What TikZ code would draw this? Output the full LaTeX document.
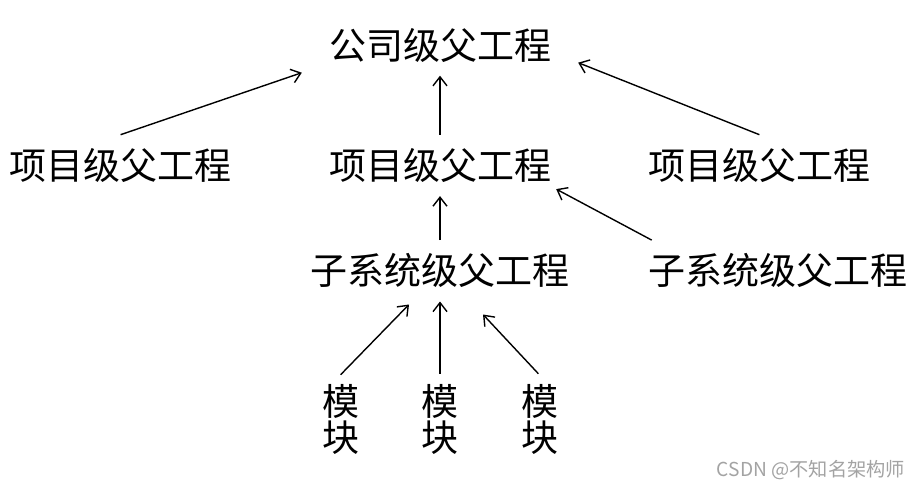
\documentclass[tikz,border=0pt]{standalone}
\usepackage{fontspec}
\newfontfamily\cjk{Noto Sans CJK SC}
\usetikzlibrary{positioning,arrows.meta}
\definecolor{markgray}{HTML}{A3A3A3}

\tikzset{
    proj/.style={inner sep=0pt, font=\cjk\fontsize{37}{40}\selectfont,
        text height=32.6pt, text depth=4.4pt},
    modbox/.style={inner sep=0pt, align=center, font=\cjk\fontsize{37}{36}\selectfont},
    uparrow/.style={line width=1.4pt, -{Straight Barb[length=9pt,width=14pt,line width=1.4pt]}}
}

\begin{document}
\begin{tikzpicture}[x=1pt,y=-1pt]
            \useasboundingbox (0,0) rectangle (922,492);
                \node[proj] (top) at (440,45) {公司级父工程};
                \node[proj, below=83pt of top] (midproj) {项目级父工程};
                \node[proj, left=97pt of midproj] (leftproj) {项目级父工程};
                \node[proj, right=97pt of midproj] (rightproj) {项目级父工程};
                \node[proj, below=68pt of midproj] (midsub) {子系统级父工程};
                \node[proj, right=79pt of midsub] (rightsub) {子系统级父工程};
                \node[modbox] (midmod) at (440,419) {模\\块};
                \node[modbox, left=62pt of midmod] (leftmod) {模\\块};
                \node[modbox, right=63pt of midmod] (rightmod) {模\\块};
                \node[anchor=east, inner sep=0pt, text=markgray,
                    font=\cjk\fontsize{19.2}{22}\selectfont] (mark) at (905,470) {CSDN @不知名架构师};
                % project level to company level
                \draw[uparrow] ([yshift=12pt]leftproj.north) -- ([xshift=-27pt,yshift=-9pt]top.south west);
                \draw[uparrow] ([yshift=12pt]midproj.north) -- ([yshift=-12pt]top.south);
                \draw[uparrow] ([yshift=12pt]rightproj.north) -- ([xshift=27pt,yshift=1pt]top.south east);
                % subsystem level to project level
                \draw[uparrow] ([yshift=12pt]midsub.north) -- ([yshift=-12pt]midproj.south);
                \draw[uparrow] ([xshift=3pt,yshift=12pt]rightsub.north west) -- ([xshift=5pt,yshift=-5pt]midproj.south east);
                % modules to subsystem
                \draw[uparrow] ([yshift=9pt]leftmod.north) -- ([xshift=-31pt,yshift=-15pt]midsub.south);
                \draw[uparrow] ([yshift=10pt]midmod.north) -- ([yshift=-12pt]midsub.south);
                \draw[uparrow] ([xshift=-2pt,yshift=10pt]rightmod.north) -- ([xshift=43pt,yshift=-25pt]midsub.south);
        \end{tikzpicture}
\end{document}
